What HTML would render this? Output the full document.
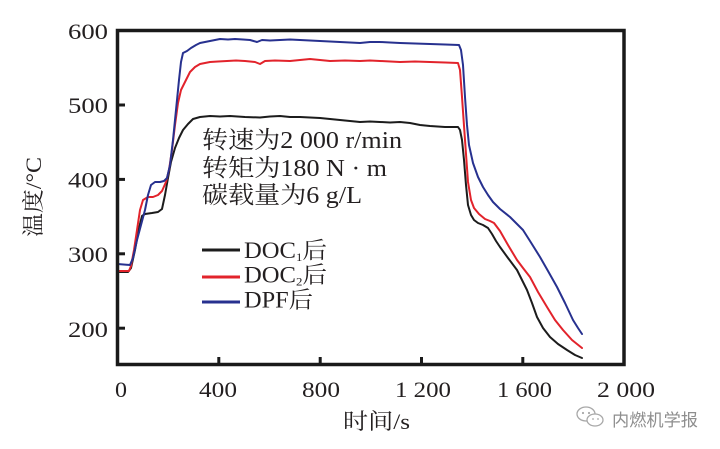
<!DOCTYPE html>
<html><head><meta charset="utf-8"><style>
html,body{margin:0;padding:0;background:#fff;}
svg{display:block;}
.s{font-family:"Liberation Serif","Noto Serif CJK SC",serif;fill:#231f20;}
</style></head><body>
<svg width="720" height="449" viewBox="0 0 720 449" xmlns="http://www.w3.org/2000/svg">
<rect width="720" height="449" fill="#fff"/>
<!-- curves -->
<g fill="none" stroke-width="2" stroke-linejoin="round" stroke-linecap="round">
<polyline stroke="#1c1c1c" points="117.5,272 128,272 131,268 135,250 139,228 142,216 145,214 152,213 158,212 162,209 165,195 168,178 171,162 175,148 179,138 183,130 188,124 193,119 200,117 210,116 220,116.5 230,116 245,117 260,117.5 270,116.5 280,116 290,117 300,117 310,117.5 320,118 330,119 340,120 350,121 360,122 370,121.5 380,122 390,122.5 400,122 410,123 420,125 430,126 445,127 458,127 460,130 462,140 464,160 466,185 468,205 471,215 474,220 478,223 483,225 488,228 492,234 496,241 500,247 508,258 517,270 522,280 527,290 532,303 537,317 543,328 550,337 558,344 567,350 575,355 582,358"/>
<polyline stroke="#e2232b" points="117.5,271 129,271 131,266 134,250 137,230 140,210 143,200 148,197 153,197 158,195 162,191 166,182 169,170 172,150 175,125 178,103 181,90 185,82 190,72 195,67 200,64 210,62 218,61.5 227,61 236,60.5 245,61 255,62 260,64 265,61 275,60.5 290,61 300,60 310,59 320,60 330,61 345,60.5 360,61 370,60.5 380,61 400,62 415,61.5 430,62 445,62.5 458,63 460,70 462,97 465,140 468,182 471,200 474,208 479,214 485,219 490,221 494,223 497,227 500,231 508,245 517,260 523,268 530,277 538,292 547,307 555,320 563,330 572,340 582,348"/>
<polyline stroke="#27318f" points="117.5,264 130,265 133,258 137,240 141,225 145,210 148,195 151,185 155,182 160,182 164,181 167,178 170,165 173,140 176,110 179,80 181,62 183,53 187,51 191,48 196,45 200,43 210,41 220,39 228,39.5 235,39 243,39.5 250,40 257,42 262,40 270,40.5 280,40 290,39.5 300,40 310,40.5 320,41 330,41.5 340,42 350,42.5 360,43 370,42 380,42 390,42.5 400,43 415,43.5 430,44 445,44.5 459,45 461,50 463,65 465,97 467,125 469,145 473,163 478,177 483,187 488,195 493,202 500,209 510,217 516,223 523,230 530,241 540,257 548,271 557,287 565,303 573,320 578,328 582,334"/>
</g>
<!-- frame -->
<rect x="117.5" y="30.5" width="506.5" height="334" fill="none" stroke="#1a1a1a" stroke-width="3.5"/>
<!-- ticks -->
<g stroke="#1a1a1a" stroke-width="3">
<line x1="117" y1="105" x2="125" y2="105"/>
<line x1="117" y1="179.4" x2="125" y2="179.4"/>
<line x1="117" y1="253.8" x2="125" y2="253.8"/>
<line x1="117" y1="328.2" x2="125" y2="328.2"/>
<line x1="218.8" y1="364" x2="218.8" y2="357"/>
<line x1="320.2" y1="364" x2="320.2" y2="357"/>
<line x1="421.5" y1="364" x2="421.5" y2="357"/>
<line x1="522.8" y1="364" x2="522.8" y2="357"/>
</g>
<!-- y tick labels -->
<g class="s" font-size="22" text-anchor="end">
<text x="108" y="39" textLength="40" lengthAdjust="spacingAndGlyphs">600</text>
<text x="108" y="113" textLength="40" lengthAdjust="spacingAndGlyphs">500</text>
<text x="108" y="187.5" textLength="40" lengthAdjust="spacingAndGlyphs">400</text>
<text x="108" y="262" textLength="40" lengthAdjust="spacingAndGlyphs">300</text>
<text x="108" y="337" textLength="40" lengthAdjust="spacingAndGlyphs">200</text>
</g>
<!-- x tick labels -->
<g class="s" font-size="22" text-anchor="middle">
<text x="121" y="397" textLength="12" lengthAdjust="spacingAndGlyphs">0</text>
<text x="218" y="397" textLength="38" lengthAdjust="spacingAndGlyphs">400</text>
<text x="321" y="397" textLength="38" lengthAdjust="spacingAndGlyphs">800</text>
<text x="423" y="397" textLength="56" lengthAdjust="spacingAndGlyphs">1 200</text>
<text x="524.5" y="397" textLength="55" lengthAdjust="spacingAndGlyphs">1 600</text>
<text x="626" y="397" textLength="58" lengthAdjust="spacingAndGlyphs">2 000</text>
</g>
<!-- axis titles -->
<text class="s" font-size="22" x="343" y="429" textLength="67" lengthAdjust="spacingAndGlyphs">时间/s</text>
<text class="s" font-size="22" text-anchor="middle" transform="translate(41,197) rotate(-90)" textLength="80" lengthAdjust="spacingAndGlyphs">温度/°C</text>
<!-- annotation -->
<g class="s" font-size="24">
<text x="202" y="148" textLength="200" lengthAdjust="spacingAndGlyphs">转速为2 000 r/min</text>
<text x="202" y="176" textLength="185" lengthAdjust="spacingAndGlyphs">转矩为180 N · m</text>
<text x="202" y="203" textLength="160" lengthAdjust="spacingAndGlyphs">碳载量为6 g/L</text>
</g>
<!-- legend -->
<g stroke-width="3">
<line x1="202" y1="250" x2="240" y2="250" stroke="#1c1c1c"/>
<line x1="202" y1="277" x2="240" y2="277" stroke="#e2232b"/>
<line x1="202" y1="302" x2="240" y2="302" stroke="#27318f"/>
</g>
<g class="s" font-size="23">
<text x="244" y="258" textLength="83" lengthAdjust="spacingAndGlyphs">DOC<tspan font-size="12" dy="3">1</tspan><tspan dy="-3">后</tspan></text>
<text x="244" y="282.5" textLength="83" lengthAdjust="spacingAndGlyphs">DOC<tspan font-size="12" dy="3">2</tspan><tspan dy="-3">后</tspan></text>
<text x="244" y="307.5" textLength="69" lengthAdjust="spacingAndGlyphs">DPF后</text>
</g>
<!-- watermark -->
<g fill="none" stroke="#a8a8a8" stroke-width="1.3">
<ellipse cx="586" cy="414" rx="9" ry="7"/>
<ellipse cx="595" cy="420" rx="8" ry="6" fill="#fff"/>
</g>
<g fill="#a8a8a8">
<circle cx="583" cy="413" r="1.1"/><circle cx="589" cy="413" r="1.1"/>
<circle cx="593" cy="419" r="0.9"/><circle cx="598" cy="419" r="0.9"/>
</g>
<text x="612" y="426" font-family="'Noto Sans CJK SC','WenQuanYi Zen Hei',sans-serif" font-size="17" fill="#8e8e8e" textLength="86" lengthAdjust="spacingAndGlyphs">内燃机学报</text>
</svg>
</body></html>
